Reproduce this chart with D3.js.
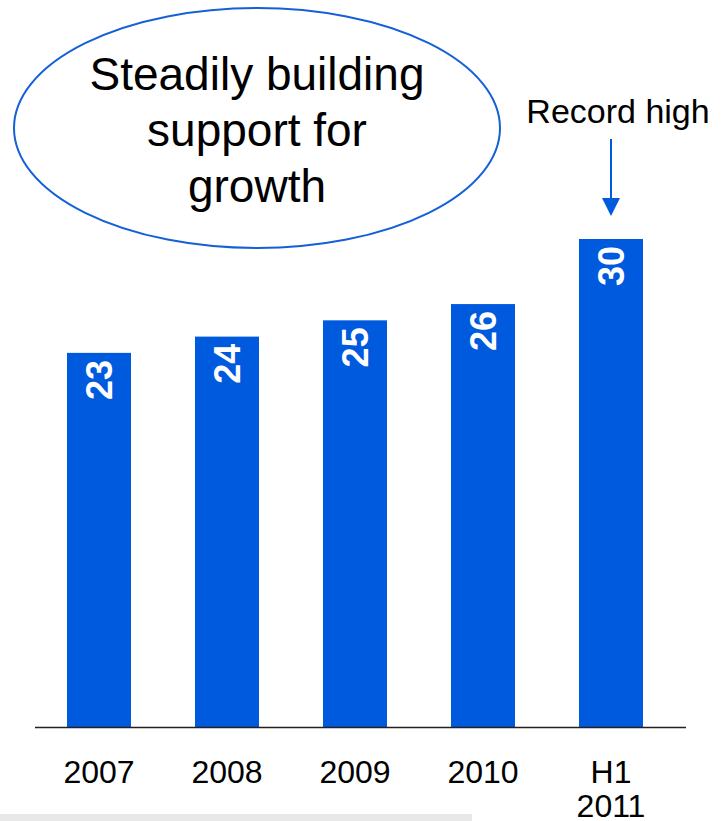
<!DOCTYPE html>
<html>
<head>
<meta charset="utf-8">
<script src="https://cdn.jsdelivr.net/npm/d3@7"></script>
<style>
  html, body { margin: 0; padding: 0; background: #fff; }
  svg { display: block; font-family: "Liberation Sans", Arial, Helvetica, sans-serif; }
</style>
</head>
<body>
<svg id="chart" width="724" height="821"></svg>
<script>
// Categories and values
const categories = ["2007", "2008", "2009", "2010", "H1 2011"];
const values = [23, 24, 25, 26, 30];
const calloutLines = ["Steadily building", "support for", "growth"];
const recordLabel = "Record high";

const blue = "#005ade";
const svg = d3.select("#chart");

const baseY = 727;
const x = d3.scaleBand().domain(categories).range([35, 675]).paddingInner(0.5).paddingOuter(0.25);
const y = d3.scaleLinear().domain([0, 30]).range([baseY, 239]);

// Bars
svg.selectAll("rect.bar").data(values).join("rect")
  .attr("class", "bar")
  .attr("x", (d, i) => x(categories[i]))
  .attr("y", d => y(d))
  .attr("width", x.bandwidth())
  .attr("height", d => baseY - y(d))
  .attr("fill", blue);

// Value labels, rotated inside the top of each bar
svg.selectAll("text.val").data(values).join("text")
  .attr("class", "val")
  .attr("transform", (d, i) => `translate(${x(categories[i]) + x.bandwidth() / 2 + 13},${y(d) + 7}) rotate(-90)`)
  .attr("text-anchor", "end")
  .attr("fill", "#fff")
  .attr("font-weight", "bold")
  .attr("font-size", 36)
  .text(d => d);

// Baseline
svg.append("line")
  .attr("x1", 35).attr("x2", 686)
  .attr("y1", baseY + 0.5).attr("y2", baseY + 0.5)
  .attr("stroke", "#222").attr("stroke-width", 1.5);

// Category labels
const xAxis = d3.axisBottom(x).tickSize(0).tickPadding(0);
const gx = svg.append("g").attr("transform", `translate(0,${baseY})`).call(xAxis);
gx.select(".domain").remove();
gx.selectAll(".tick text").each(function(d) {
  const t = d3.select(this);
  const parts = d.split(" ");
  t.text(null).attr("y", 0).attr("dy", null)
    .attr("font-size", 32).attr("fill", "#000")
    .attr("font-family", "\"Liberation Sans\", Arial, sans-serif");
  parts.forEach((p, k) => {
    t.append("tspan").attr("x", 0).attr("y", 56 + k * 34).text(p);
  });
});

// Callout ellipse
svg.append("ellipse")
  .attr("cx", 257).attr("cy", 128).attr("rx", 243).attr("ry", 120)
  .attr("fill", "none").attr("stroke", "#1560d8").attr("stroke-width", 2);

svg.append("g").selectAll("text").data(calloutLines).join("text")
  .attr("x", 257)
  .attr("y", (d, i) => 90 + i * 56)
  .attr("text-anchor", "middle")
  .attr("font-size", 46)
  .attr("fill", "#000")
  .text(d => d);

// Record high annotation with arrow to the last bar
const lastX = x(categories[4]) + x.bandwidth() / 2;
svg.append("text")
  .attr("x", 618).attr("y", 123)
  .attr("text-anchor", "middle")
  .attr("font-size", 34)
  .attr("fill", "#000")
  .text(recordLabel);

svg.append("line")
  .attr("x1", lastX).attr("x2", lastX)
  .attr("y1", 139).attr("y2", 200)
  .attr("stroke", blue).attr("stroke-width", 2);
svg.append("path")
  .attr("d", `M${lastX - 9},198 L${lastX + 9},198 L${lastX},216 Z`)
  .attr("fill", blue);

// Grey strip along the bottom edge
svg.append("rect")
  .attr("x", 0).attr("y", 814).attr("width", 472).attr("height", 7)
  .attr("fill", "#e8e8e8");
</script>
</body>
</html>
